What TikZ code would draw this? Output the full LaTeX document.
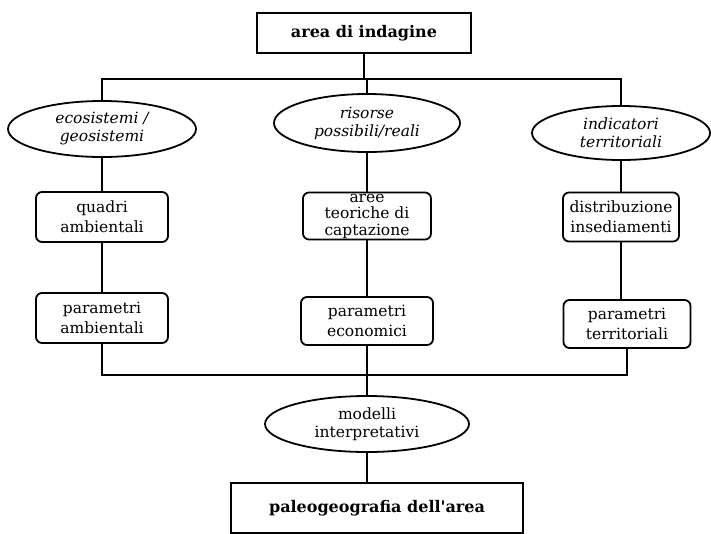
\documentclass[tikz,border=0pt]{standalone}
\usepackage{fontspec}
\setmainfont{DejaVu Serif}
\usetikzlibrary{shapes.geometric}
\begin{document}
\begin{tikzpicture}[x=1pt,y=-1pt,
  every path/.style={line width=1.8pt},
  sqbox/.style={draw,line width=1.8pt,inner sep=0pt,align=center,font=\fontsize{16}{18}\selectfont\bfseries},
  rbox/.style={draw,line width=1.8pt,rounded corners=6pt,inner sep=0pt,align=center,font=\fontsize{15.5}{20}\selectfont},
  ell/.style={draw,ellipse,line width=1.8pt,inner sep=0pt,align=center,font=\fontsize{15.5}{18}\selectfont\itshape},
]
\useasboundingbox (0,0) rectangle (711,533);
% nodes
\node[sqbox,minimum width=214pt,minimum height=40pt] (top) at (364,33) {area di indagine};
\node[ell,minimum width=188pt,minimum height=56pt] (e1) at (102,129) {ecosistemi /\\geosistemi};
\node[ell,minimum width=186pt,minimum height=58pt] (e2) at (367,123) {risorse\\possibili/reali};
\node[ell,minimum width=178pt,minimum height=54pt] (e3) at (621,133) {indicatori\\territoriali};
\node[rbox,minimum width=132pt,minimum height=50pt] (b11) at (102,217) {quadri\\ambientali};
\node[rbox,minimum width=128pt,minimum height=47pt,font=\fontsize{15.5}{16.5}\selectfont] (b12) at (367,216) {aree\\teoriche di\\captazione};
\node[rbox,minimum width=116pt,minimum height=49pt] (b13) at (621,217) {distribuzione\\insediamenti};
\node[rbox,minimum width=132pt,minimum height=50pt] (b21) at (102,318) {parametri\\ambientali};
\node[rbox,minimum width=132pt,minimum height=48pt] (b22) at (367,321) {parametri\\economici};
\node[rbox,minimum width=127pt,minimum height=48pt] (b23) at (627,324) {parametri\\territoriali};
\node[ell,minimum width=204pt,minimum height=56pt,font=\fontsize{15.5}{18}\selectfont] (e4) at (367,424) {modelli\\interpretativi};
\node[sqbox,minimum width=292pt,minimum height=50pt] (bot) at (377,508) {paleogeografia dell\textquotesingle area};
% junctions
\coordinate (j1) at (364,79);
\coordinate (j2) at (367,375);
% connectors
\draw (top.south) -- (top.south |- j1);
\draw (e1.north) |- (j1) -| (e3.north);
\draw (e2.north) -- (e2.north |- j1);
\draw (e1.south) -- (b11.north);
\draw (e2.south) -- (b12.north);
\draw (e3.south) -- (b13.north);
\draw (b11.south) -- (b21.north);
\draw (b12.south) -- (b22.north);
\draw (b13.south) -- (b13.south |- b23.north);
\draw (b21.south) |- (j2) -| (b23.south);
\draw (b22.south) -- (e4.north);
\draw (e4.south) -- (e4.south |- bot.north);
\end{tikzpicture}
\end{document}
